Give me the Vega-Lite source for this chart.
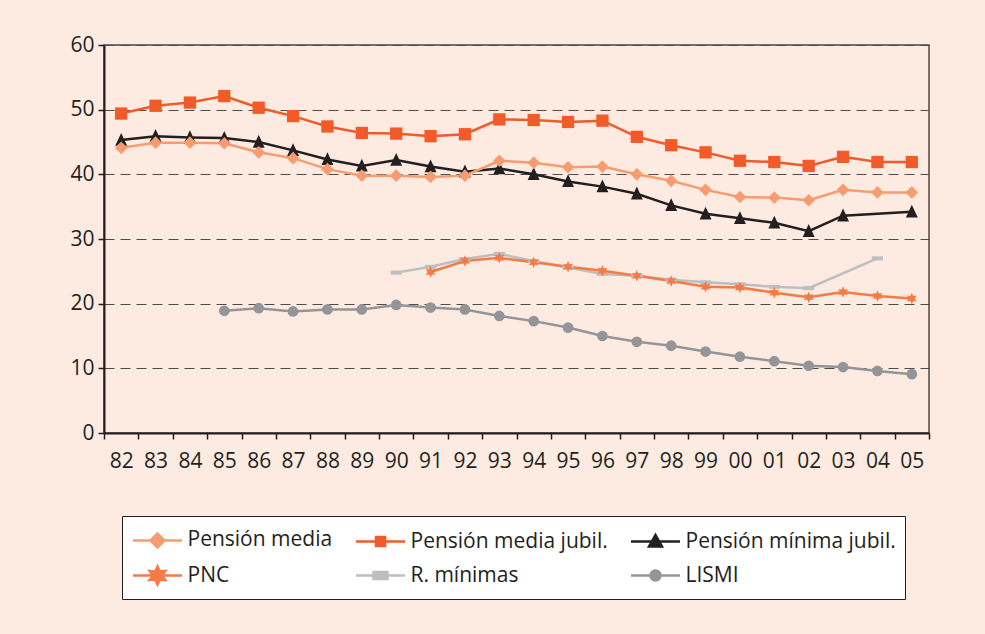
{
  "$schema": "https://vega.github.io/schema/vega-lite/v6.json",
  "autosize": "none",
  "width": 825,
  "height": 388,
  "padding": {"left": 104, "top": 45, "right": 56, "bottom": 201},
  "background": "#fdebe1",
  "config": {
    "view": {"stroke": "#4a4a4a", "strokeWidth": 1.5},
    "font": "Open Sans"
  },
  "datasets": {
    "d": [
      {"year": "90", "series": "R. mínimas", "value": 24.8},
      {"year": "91", "series": "R. mínimas", "value": 25.7},
      {"year": "92", "series": "R. mínimas", "value": 26.9},
      {"year": "93", "series": "R. mínimas", "value": 27.7},
      {"year": "94", "series": "R. mínimas", "value": 26.6},
      {"year": "95", "series": "R. mínimas", "value": 25.6},
      {"year": "96", "series": "R. mínimas", "value": 24.6},
      {"year": "97", "series": "R. mínimas", "value": 24.3},
      {"year": "98", "series": "R. mínimas", "value": 23.7},
      {"year": "99", "series": "R. mínimas", "value": 23.3},
      {"year": "00", "series": "R. mínimas", "value": 23.0},
      {"year": "01", "series": "R. mínimas", "value": 22.6},
      {"year": "02", "series": "R. mínimas", "value": 22.4},
      {"year": "04", "series": "R. mínimas", "value": 27.0},

      {"year": "91", "series": "PNC", "value": 24.9},
      {"year": "92", "series": "PNC", "value": 26.6},
      {"year": "93", "series": "PNC", "value": 27.1},
      {"year": "94", "series": "PNC", "value": 26.4},
      {"year": "95", "series": "PNC", "value": 25.7},
      {"year": "96", "series": "PNC", "value": 25.1},
      {"year": "97", "series": "PNC", "value": 24.3},
      {"year": "98", "series": "PNC", "value": 23.5},
      {"year": "99", "series": "PNC", "value": 22.6},
      {"year": "00", "series": "PNC", "value": 22.5},
      {"year": "01", "series": "PNC", "value": 21.7},
      {"year": "02", "series": "PNC", "value": 21.0},
      {"year": "03", "series": "PNC", "value": 21.8},
      {"year": "04", "series": "PNC", "value": 21.2},
      {"year": "05", "series": "PNC", "value": 20.8},

      {"year": "85", "series": "LISMI", "value": 18.9},
      {"year": "86", "series": "LISMI", "value": 19.3},
      {"year": "87", "series": "LISMI", "value": 18.8},
      {"year": "88", "series": "LISMI", "value": 19.1},
      {"year": "89", "series": "LISMI", "value": 19.1},
      {"year": "90", "series": "LISMI", "value": 19.8},
      {"year": "91", "series": "LISMI", "value": 19.4},
      {"year": "92", "series": "LISMI", "value": 19.1},
      {"year": "93", "series": "LISMI", "value": 18.1},
      {"year": "94", "series": "LISMI", "value": 17.3},
      {"year": "95", "series": "LISMI", "value": 16.3},
      {"year": "96", "series": "LISMI", "value": 15.0},
      {"year": "97", "series": "LISMI", "value": 14.1},
      {"year": "98", "series": "LISMI", "value": 13.5},
      {"year": "99", "series": "LISMI", "value": 12.6},
      {"year": "00", "series": "LISMI", "value": 11.8},
      {"year": "01", "series": "LISMI", "value": 11.1},
      {"year": "02", "series": "LISMI", "value": 10.4},
      {"year": "03", "series": "LISMI", "value": 10.2},
      {"year": "04", "series": "LISMI", "value": 9.6},
      {"year": "05", "series": "LISMI", "value": 9.1},

      {"year": "82", "series": "Pensión mínima jubil.", "value": 45.3},
      {"year": "83", "series": "Pensión mínima jubil.", "value": 45.9},
      {"year": "84", "series": "Pensión mínima jubil.", "value": 45.7},
      {"year": "85", "series": "Pensión mínima jubil.", "value": 45.6},
      {"year": "86", "series": "Pensión mínima jubil.", "value": 45.0},
      {"year": "87", "series": "Pensión mínima jubil.", "value": 43.7},
      {"year": "88", "series": "Pensión mínima jubil.", "value": 42.3},
      {"year": "89", "series": "Pensión mínima jubil.", "value": 41.3},
      {"year": "90", "series": "Pensión mínima jubil.", "value": 42.2},
      {"year": "91", "series": "Pensión mínima jubil.", "value": 41.2},
      {"year": "92", "series": "Pensión mínima jubil.", "value": 40.4},
      {"year": "93", "series": "Pensión mínima jubil.", "value": 40.9},
      {"year": "94", "series": "Pensión mínima jubil.", "value": 40.0},
      {"year": "95", "series": "Pensión mínima jubil.", "value": 38.9},
      {"year": "96", "series": "Pensión mínima jubil.", "value": 38.1},
      {"year": "97", "series": "Pensión mínima jubil.", "value": 37.0},
      {"year": "98", "series": "Pensión mínima jubil.", "value": 35.2},
      {"year": "99", "series": "Pensión mínima jubil.", "value": 33.9},
      {"year": "00", "series": "Pensión mínima jubil.", "value": 33.2},
      {"year": "01", "series": "Pensión mínima jubil.", "value": 32.5},
      {"year": "02", "series": "Pensión mínima jubil.", "value": 31.2},
      {"year": "03", "series": "Pensión mínima jubil.", "value": 33.6},
      {"year": "05", "series": "Pensión mínima jubil.", "value": 34.2},

      {"year": "82", "series": "Pensión media", "value": 44.1},
      {"year": "83", "series": "Pensión media", "value": 44.9},
      {"year": "84", "series": "Pensión media", "value": 44.9},
      {"year": "85", "series": "Pensión media", "value": 44.8},
      {"year": "86", "series": "Pensión media", "value": 43.4},
      {"year": "87", "series": "Pensión media", "value": 42.5},
      {"year": "88", "series": "Pensión media", "value": 40.8},
      {"year": "89", "series": "Pensión media", "value": 39.8},
      {"year": "90", "series": "Pensión media", "value": 39.8},
      {"year": "91", "series": "Pensión media", "value": 39.6},
      {"year": "92", "series": "Pensión media", "value": 39.8},
      {"year": "93", "series": "Pensión media", "value": 42.1},
      {"year": "94", "series": "Pensión media", "value": 41.8},
      {"year": "95", "series": "Pensión media", "value": 41.1},
      {"year": "96", "series": "Pensión media", "value": 41.2},
      {"year": "97", "series": "Pensión media", "value": 40.0},
      {"year": "98", "series": "Pensión media", "value": 39.0},
      {"year": "99", "series": "Pensión media", "value": 37.6},
      {"year": "00", "series": "Pensión media", "value": 36.5},
      {"year": "01", "series": "Pensión media", "value": 36.4},
      {"year": "02", "series": "Pensión media", "value": 36.0},
      {"year": "03", "series": "Pensión media", "value": 37.6},
      {"year": "04", "series": "Pensión media", "value": 37.2},
      {"year": "05", "series": "Pensión media", "value": 37.2},

      {"year": "82", "series": "Pensión media jubil.", "value": 49.4},
      {"year": "83", "series": "Pensión media jubil.", "value": 50.6},
      {"year": "84", "series": "Pensión media jubil.", "value": 51.1},
      {"year": "85", "series": "Pensión media jubil.", "value": 52.1},
      {"year": "86", "series": "Pensión media jubil.", "value": 50.3},
      {"year": "87", "series": "Pensión media jubil.", "value": 49.0},
      {"year": "88", "series": "Pensión media jubil.", "value": 47.4},
      {"year": "89", "series": "Pensión media jubil.", "value": 46.4},
      {"year": "90", "series": "Pensión media jubil.", "value": 46.3},
      {"year": "91", "series": "Pensión media jubil.", "value": 45.9},
      {"year": "92", "series": "Pensión media jubil.", "value": 46.2},
      {"year": "93", "series": "Pensión media jubil.", "value": 48.5},
      {"year": "94", "series": "Pensión media jubil.", "value": 48.4},
      {"year": "95", "series": "Pensión media jubil.", "value": 48.1},
      {"year": "96", "series": "Pensión media jubil.", "value": 48.3},
      {"year": "97", "series": "Pensión media jubil.", "value": 45.8},
      {"year": "98", "series": "Pensión media jubil.", "value": 44.5},
      {"year": "99", "series": "Pensión media jubil.", "value": 43.4},
      {"year": "00", "series": "Pensión media jubil.", "value": 42.1},
      {"year": "01", "series": "Pensión media jubil.", "value": 41.9},
      {"year": "02", "series": "Pensión media jubil.", "value": 41.3},
      {"year": "03", "series": "Pensión media jubil.", "value": 42.7},
      {"year": "04", "series": "Pensión media jubil.", "value": 41.9},
      {"year": "05", "series": "Pensión media jubil.", "value": 41.9}
    ]
  },
  "data": {"name": "d"},
  "encoding": {
    "x": {
      "field": "year",
      "type": "ordinal",
      "sort": ["82","83","84","85","86","87","88","89","90","91","92","93","94","95","96","97","98","99","00","01","02","03","04","05"],
      "scale": {"type": "band", "paddingInner": 0, "paddingOuter": 0, "domain": ["82","83","84","85","86","87","88","89","90","91","92","93","94","95","96","97","98","99","00","01","02","03","04","05"]},
      "axis": {
        "title": null,
        "labelAngle": 0,
        "tickBand": "extent",
        "domainColor": "#231f20",
        "domainWidth": 2,
        "tickColor": "#231f20",
        "tickWidth": 1.5,
        "tickSize": 6,
        "labelFontSize": 21,
        "labelColor": "#231f20",
        "labelPadding": 11,
        "grid": false
      }
    },
    "y": {
      "field": "value",
      "type": "quantitative",
      "scale": {"domain": [0, 60], "nice": false},
      "axis": {
        "title": null,
        "values": [0, 10, 20, 30, 40, 50, 60],
        "domainColor": "#231f20",
        "domainWidth": 2,
        "tickColor": "#231f20",
        "tickWidth": 1.5,
        "tickSize": 6,
        "labelFontSize": 21,
        "labelColor": "#231f20",
        "labelPadding": 4,
        "grid": true,
        "gridColor": "#4d4d4d",
        "gridWidth": 1.2,
        "gridDash": [10, 6]
      }
    },
    "color": {
      "field": "series",
      "type": "nominal",
      "scale": {
        "domain": ["Pensión media", "Pensión media jubil.", "Pensión mínima jubil.", "PNC", "R. mínimas", "LISMI"],
        "range": ["#f69c70", "#f15a29", "#231f20", "#f47b45", "#bcbec0", "#939598"]
      }
    }
  },
  "resolve": {"legend": {"color": "independent", "shape": "independent", "size": "independent"}},
  "layer": [
    {
      "mark": {"type": "line", "strokeWidth": 2.5},
      "encoding": {
        "color": {
          "field": "series",
          "type": "nominal",
          "legend": {
            "title": null,
            "orient": "none",
            "legendX": 18,
            "legendY": 471,
            "direction": "horizontal",
            "columns": 3,
            "fillColor": "#ffffff",
            "strokeColor": "#231f20",
            "padding": 9,
            "columnPadding": 18,
            "rowPadding": 7.5,
            "symbolSize": 756,
            "symbolOffset": 11.5,
            "labelFontSize": 21,
            "labelColor": "#231f20",
            "labelOffset": 15,
            "labelLimit": 400,
            "encode": {
              "symbols": {
                "update": {
                  "shape": {"signal": "datum.value === 'Pensión media' ? 'M-1.78,0L1.78,0M-0.51,0L0,-0.51L0.51,0L0,0.51Z' : datum.value === 'Pensión media jubil.' ? 'M-1.78,0L1.78,0M-0.33,-0.33L0.33,-0.33L0.33,0.33L-0.33,0.33Z' : datum.value === 'Pensión mínima jubil.' ? 'M-1.78,0L1.78,0M-0.47,0.36L0,-0.47L0.47,0.36Z' : datum.value === 'PNC' ? 'M-1.78,0L1.78,0M0,-0.655L0.164,-0.283L0.567,-0.327L0.327,0L0.567,0.327L0.164,0.283L0,0.655L-0.164,0.283L-0.567,0.327L-0.327,0L-0.567,-0.327L-0.164,-0.283Z' : datum.value === 'R. mínimas' ? 'M-1.78,0L1.78,0M-0.51,-0.255L0.51,-0.255L0.51,0.255L-0.51,0.255Z' : 'M-1.78,0L1.78,0M-0.364,0A0.364,0.364 0 1,0 0.364,0A0.364,0.364 0 1,0 -0.364,0Z'"},
                  "fill": {"signal": "scale('color', datum.value)"},
                  "stroke": {"signal": "scale('color', datum.value)"},
                  "strokeWidth": {"value": 2.5},
                  "opacity": {"value": 1},
                  "fillOpacity": {"value": 1}
                }
              }
            }
          }
        }
      }
    },
    {
      "mark": {"type": "point", "filled": true, "opacity": 1},
      "encoding": {
        "color": {"field": "series", "type": "nominal", "legend": null},
        "shape": {
          "field": "series",
          "type": "nominal",
          "legend": null,
          "scale": {
            "domain": ["Pensión media", "Pensión media jubil.", "Pensión mínima jubil.", "PNC", "R. mínimas", "LISMI"],
            "range": ["diamond", "square", "M0,-1.2L-1,0.95L1,0.95Z", "M0,-1L0.25,-0.433L0.866,-0.5L0.5,0L0.866,0.5L0.25,0.433L0,1L-0.25,0.433L-0.866,0.5L-0.5,0L-0.866,-0.5L-0.25,-0.433Z", "M-1,-0.36L1,-0.36L1,0.36L-1,0.36Z", "circle"]
          }
        },
        "size": {
          "field": "series",
          "type": "nominal",
          "legend": null,
          "scale": {
            "domain": ["Pensión media", "Pensión media jubil.", "Pensión mínima jubil.", "PNC", "R. mínimas", "LISMI"],
            "range": [160, 115, 169, 340, 484, 169]
          }
        }
      }
    }
  ]
}
